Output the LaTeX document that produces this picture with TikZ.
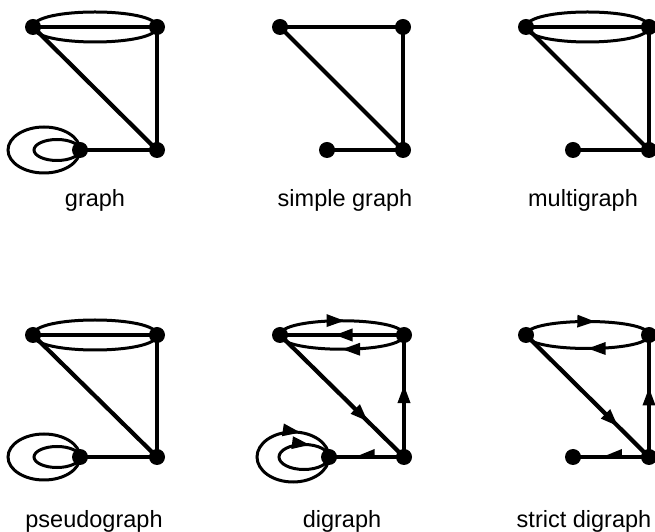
\documentclass[tikz,border=0pt]{standalone}
\usepackage{fontspec}
\setmainfont{Liberation Sans}
\usetikzlibrary{arrows.meta,decorations.markings}
\begin{document}
\begin{tikzpicture}[x=1pt,y=1pt,
  dot/.style={circle,fill=black,inner sep=0pt,minimum size=16pt},
  edge/.style={line width=3.5pt},
  diag/.style={line width=4.2pt},
  arcline/.style={line width=3pt},
  lbl/.style={anchor=base,font=\fontsize{23.5}{26}\selectfont,inner sep=0pt},
  Tri/.tip={Triangle[length=18pt,width=12pt]},
  Harp/.tip={Triangle[length=20pt,width=15pt,harpoon,swap]},
  arrowat/.style={postaction={decorate},decoration={markings,mark=at position #1 with {\arrow{Tri}}}},
  harpat/.style={postaction={decorate},decoration={markings,mark=at position #1 with {\arrow{Harp}}}}
]
\useasboundingbox (0,0) rectangle (655,532);

% ---------- graph ----------
\node[dot] (g1a) at (33,505) {};
\node[dot] (g1b) at (157,505) {};
\node[dot] (g1c) at (157,382) {};
\node[dot] (g1d) at (80,382) {};
\draw[arcline] (g1a.center) .. controls +(0,20) and +(0,20) .. (g1b.center);
\draw[arcline] (g1a.center) .. controls +(0,-20) and +(0,-20) .. (g1b.center);
\draw[edge] (g1a.center) -- (g1b.center);
\draw[diag] (g1a.center) -- (g1c.center);
\draw[edge] (g1b.center) -- (g1c.center);
\draw[edge] (g1c.center) -- (g1d.center);
\draw[arcline] (g1d.center) arc[start angle=0,end angle=360,x radius=36,y radius=23];
\draw[arcline] (g1d.center) arc[start angle=0,end angle=360,x radius=23,y radius=10.5];
\node[lbl] (l1) at (95,325) {graph};

% ---------- simple graph ----------
\node[dot] (g2a) at (280,505) {};
\node[dot] (g2b) at (403,505) {};
\node[dot] (g2c) at (403,382) {};
\node[dot] (g2d) at (327,382) {};
\draw[edge] (g2a.center) -- (g2b.center);
\draw[diag] (g2a.center) -- (g2c.center);
\draw[edge] (g2b.center) -- (g2c.center);
\draw[edge] (g2c.center) -- (g2d.center);
\node[lbl] (l2) at (345,325) {simple graph};

% ---------- multigraph ----------
\node[dot] (g3a) at (526,505) {};
\node[dot] (g3b) at (649,505) {};
\node[dot] (g3c) at (649,382) {};
\node[dot] (g3d) at (573,382) {};
\draw[arcline] (g3a.center) .. controls +(0,20) and +(0,20) .. (g3b.center);
\draw[arcline] (g3a.center) .. controls +(0,-20) and +(0,-20) .. (g3b.center);
\draw[edge] (g3a.center) -- (g3b.center);
\draw[diag] (g3a.center) -- (g3c.center);
\draw[edge] (g3b.center) -- (g3c.center);
\draw[edge] (g3c.center) -- (g3d.center);
\node[lbl] (l3) at (583,325) {multigraph};

% ---------- pseudograph ----------
\node[dot] (g4a) at (33,197) {};
\node[dot] (g4b) at (157,197) {};
\node[dot] (g4c) at (157,75) {};
\node[dot] (g4d) at (80,75) {};
\draw[arcline] (g4a.center) .. controls +(0,20) and +(0,20) .. (g4b.center);
\draw[arcline] (g4a.center) .. controls +(0,-20) and +(0,-20) .. (g4b.center);
\draw[edge] (g4a.center) -- (g4b.center);
\draw[diag] (g4a.center) -- (g4c.center);
\draw[edge] (g4b.center) -- (g4c.center);
\draw[edge] (g4c.center) -- (g4d.center);
\draw[arcline] (g4d.center) arc[start angle=0,end angle=360,x radius=36,y radius=23];
\draw[arcline] (g4d.center) arc[start angle=0,end angle=360,x radius=23,y radius=10.5];
\node[lbl] (l4) at (94,4) {pseudograph};

% ---------- digraph ----------
\node[dot] (g5a) at (280,197) {};
\node[dot] (g5b) at (404,197) {};
\node[dot] (g5c) at (404,75) {};
\node[dot] (g5d) at (329,75) {};
\draw[arcline,arrowat=0.52] (g5a.center) .. controls +(0,19) and +(0,19) .. (g5b.center);
\draw[edge,arrowat=0.56] (g5b.center) -- (g5a.center);
\draw[arcline,arrowat=0.5] (g5b.center) .. controls +(0,-19) and +(0,-19) .. (g5a.center);
\draw[diag,arrowat=0.71] (g5a.center) -- (g5c.center);
\draw[edge,arrowat=0.59] (g5c.center) -- (g5b.center);
\draw[edge,harpat=0.72] (g5c.center) -- (g5d.center);
\draw[arcline,arrowat=0.79] (g5d.center) arc[start angle=0,end angle=-360,x radius=36,y radius=25];
\draw[arcline,arrowat=0.8] (g5d.center) arc[start angle=0,end angle=-360,x radius=25,y radius=12.5];
\node[lbl] (l5) at (342,4) {digraph};

% ---------- strict digraph ----------
\node[dot] (g6a) at (526,197) {};
\node[dot] (g6b) at (649,197) {};
\node[dot] (g6c) at (649,75) {};
\node[dot] (g6d) at (573,75) {};
\draw[arcline,arrowat=0.56] (g6a.center) .. controls +(0,18) and +(0,18) .. (g6b.center);
\draw[arcline,arrowat=0.5] (g6b.center) .. controls +(0,-18) and +(0,-18) .. (g6a.center);
\draw[diag,arrowat=0.75] (g6a.center) -- (g6c.center);
\draw[edge,arrowat=0.57] (g6c.center) -- (g6b.center);
\draw[edge,harpat=0.68] (g6c.center) -- (g6d.center);
\node[lbl] (l6) at (584,4) {strict digraph};
\end{tikzpicture}
\end{document}
